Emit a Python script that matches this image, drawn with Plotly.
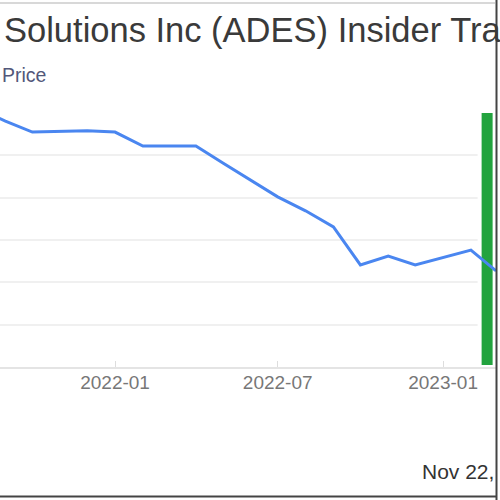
import plotly.graph_objects as go

# ---- data ----
dates = ["2021-08-01", "2021-09-01", "2021-10-01", "2021-11-01", "2021-12-01",
         "2022-01-01", "2022-02-01", "2022-03-01", "2022-04-01", "2022-05-01",
         "2022-06-01", "2022-07-01", "2022-08-01", "2022-09-01", "2022-10-01",
         "2022-11-01", "2022-12-01", "2023-01-01", "2023-02-01", "2023-03-01"]
prices = [6.10, 5.81, 5.55, 5.56, 5.58,
          5.55, 5.22, 5.22, 5.22, 4.82,
          4.42, 4.02, 3.69, 3.31, 2.41,
          2.62, 2.41, 2.58, 2.76, 2.27]

trade_dates = ["2023-02-19"]
trade_values = [6.3]

tick_vals = ["2022-01-01", "2022-07-01", "2023-01-01"]
tick_text = ["2022-01", "2022-07", "2023-01"]

title_text = "Solutions Inc (ADES) Insider Trading"
axis_title = "Price"
footer_text = "Nov 22, 2023"

# ---- figure ----
W, H = 500, 500
ML, MR, MT, MB = 0, 3, 113, 133
pw = W - ML - MR
ph = H - MT - MB

def px_x(p):
    return (p - ML) / pw

def px_y(p):
    return (H - MB - p) / ph

fig = go.Figure()
fig.add_trace(go.Bar(
    x=trade_dates, y=trade_values,
    width=16.7 * 86400000,
    marker=dict(color="#22a33e", line=dict(color="white", width=4)),
    showlegend=False, hoverinfo="skip",
))
fig.add_trace(go.Scatter(
    x=dates, y=prices, mode="lines",
    line=dict(color="#4a86f0", width=3),
    showlegend=False, hoverinfo="skip",
))

fig.update_layout(
    width=W, height=H,
    margin=dict(l=ML, r=MR, t=MT, b=MB),
    paper_bgcolor="white", plot_bgcolor="white",
    font=dict(family="Liberation Sans, Arial, sans-serif"),
    xaxis=dict(
        type="date",
        range=["2021-08-26", "2023-03-02"],
        tickmode="array", tickvals=tick_vals, ticktext=tick_text,
        tickfont=dict(size=19, color="#777777"),
        ticks="inside", ticklen=6, tickcolor="#dddddd", tickwidth=1,
        ticklabelstandoff=-3,
        showgrid=False, showline=True, linecolor="#e4e4e4", linewidth=2,
        zeroline=False,
    ),
    yaxis=dict(
        range=[0, 6], dtick=1, showticklabels=False,
        showgrid=True, gridcolor="#f0f0f0", gridwidth=1.5,
        zeroline=False, showline=False,
    ),
    annotations=[
        dict(text=title_text, xref="paper", yref="paper",
             x=px_x(1.5), y=px_y(30), xanchor="left", yanchor="middle",
             showarrow=False, font=dict(size=34.5, color="#3a3a3a")),
        dict(text=axis_title, xref="paper", yref="paper",
             x=px_x(0), y=px_y(75), xanchor="left", yanchor="middle",
             showarrow=False, font=dict(size=19.5, color="#52577a")),
        dict(text=footer_text, xref="paper", yref="paper",
             x=px_x(420), y=px_y(471), xanchor="left", yanchor="middle",
             showarrow=False, font=dict(size=21, color="#333333")),
    ],
)
fig.add_shape(type="line", xref="paper", yref="paper",
              x0=px_x(0), x1=px_x(495), y0=px_y(3), y1=px_y(3),
              line=dict(color="#d8d8d8", width=2), layer="above")
fig.add_shape(type="line", xref="paper", yref="paper",
              x0=px_x(496.5), x1=px_x(496.5), y0=px_y(0), y1=px_y(500),
              line=dict(color="#444444", width=2), layer="above")
fig.add_shape(type="line", xref="paper", yref="paper",
              x0=px_x(0), x1=px_x(497), y0=px_y(496.5), y1=px_y(496.5),
              line=dict(color="#444444", width=2), layer="above")

fig.write_html(
    "out.html",
    config={"displayModeBar": False},
    post_script="document.body.style.margin='0';document.body.style.overflow='hidden';",
)
